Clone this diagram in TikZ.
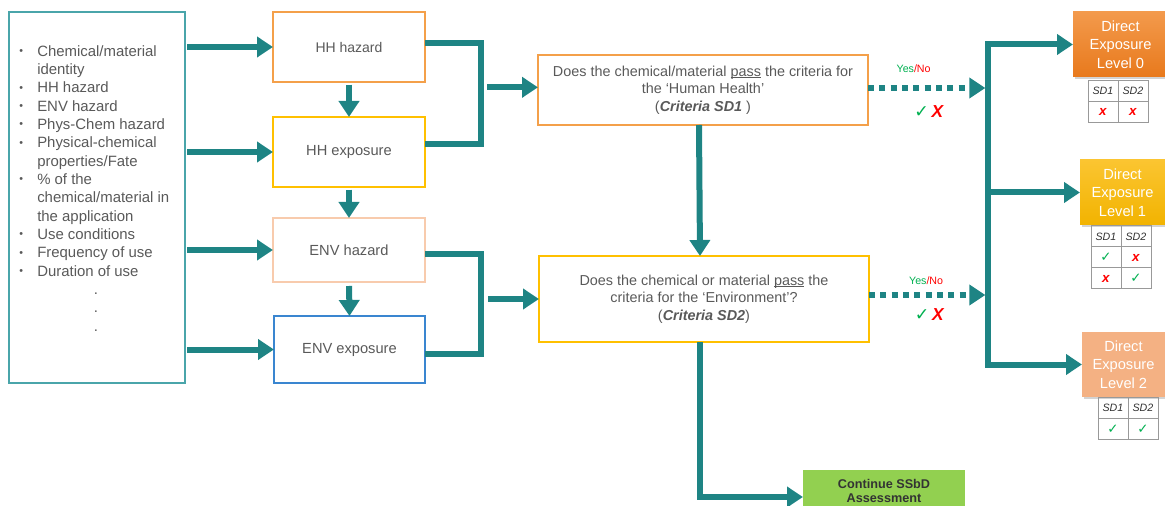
\documentclass[tikz,border=0pt]{standalone}
\usepackage{fontspec}
\setmainfont{Liberation Sans}
\newfontfamily\dejavu{DejaVu Sans}
\usetikzlibrary{arrows.meta,shadows,matrix,calc}
\definecolor{arrteal}{HTML}{1E8484}
\definecolor{lbteal}{HTML}{4AA5AA}
\definecolor{txtgray}{HTML}{595959}
\definecolor{orgB}{HTML}{F4A04A}
\definecolor{yelB}{HTML}{FFC000}
\definecolor{lorB}{HTML}{F8CBAD}
\definecolor{bluB}{HTML}{3A86D0}
\definecolor{lzTop}{HTML}{F39A4C}
\definecolor{lzBot}{HTML}{E8791C}
\definecolor{loTop}{HTML}{FBC531}
\definecolor{loBot}{HTML}{F2B300}
\definecolor{ltwo}{HTML}{F4B183}
\definecolor{cgreen}{HTML}{92D050}
\definecolor{ygreen}{HTML}{00B050}
\definecolor{xred}{HTML}{FF0000}
\newcommand\xm{{\fontsize{10}{11}\selectfont\textcolor{xred}{\textbf{\textit{x}}}}}
\newcommand\ckm{{\dejavu\textcolor{ygreen}{✓}}}
\newcommand\tck{{\fontsize{10}{11}\selectfont\ckm}}
\newcommand\ulpass[1]{\setbox0\hbox{#1}\rlap{\rule[-1.3pt]{\wd0}{0.55pt}}\box0\relax}
\newcommand\bul{\raisebox{1.3pt}{\fontsize{8}{9}\selectfont •}}
\begin{document}
\begin{tikzpicture}[x=0.75pt,y=-0.75pt,
  box/.style={draw, line width=1pt, inner sep=0pt, outer sep=0pt, text=txtgray, align=center},
  arr/.style={draw=arrteal, line width=4.5pt, -{Triangle[length=12pt,width=15pt]}},
  bar/.style={draw=arrteal, line width=4.5pt},
  dotarr/.style={draw=arrteal, line width=4.5pt, dash pattern=on 4.5pt off 4pt, -{Triangle[length=12pt,width=15pt]}},
  lvl/.style={inner sep=0pt, outer sep=0pt, text=white, align=center, font=\fontsize{11}{14}\selectfont, minimum height=48.75pt, drop shadow={opacity=0.35,shadow xshift=1.2pt,shadow yshift=-1.2pt}},
  tbl/.style={matrix of nodes, column sep=-0.75pt, row sep=-0.75pt, nodes={draw=gray!80, line width=0.75pt, minimum width=22.5pt, minimum height=15.75pt, inner sep=0pt, anchor=center, text=black!80, font=\fontsize{8}{9}\selectfont}},
  lab/.style={inner sep=0pt},
]
\useasboundingbox (0,0) rectangle (1165,506);
% left box
\node[box, draw=lbteal, minimum width=132pt, minimum height=278.25pt] (lb) at (97,197.5) {};
\node[anchor=north west, inner sep=0pt, text=txtgray, font=\fontsize{11.2}{13.75}\selectfont] (lt) at (19,43) {\begin{tabular}{@{}l@{\hspace{10.7pt}}l@{}}
\bul&Chemical/material\\
&identity\\
\bul&HH hazard\\
\bul&ENV hazard\\
\bul&Phys-Chem hazard\\
\bul&Physical-chemical\\
&properties/Fate\\
\bul&\% of the\\
&chemical/material in\\
&the application\\
\bul&Use conditions\\
\bul&Frequency of use\\
\bul&Duration of use\\
&\hspace*{42.5pt}.\\
&\hspace*{42.5pt}.\\
&\hspace*{42.5pt}.
\end{tabular}};
% middle boxes
\node[box, draw=orgB, minimum width=114pt, minimum height=52.5pt, font=\fontsize{10.5}{13}\selectfont] (hh) at (349,47) {HH hazard};
\node[box, draw=yelB, minimum width=114pt, minimum height=52.5pt, font=\fontsize{11}{13}\selectfont] (he) at (349,152) {HH exposure};
\node[box, draw=lorB, minimum width=114pt, minimum height=48pt, font=\fontsize{11}{13}\selectfont] (eh) at (349,250) {ENV hazard};
\node[box, draw=bluB, minimum width=113.25pt, minimum height=50.25pt, font=\fontsize{11}{13}\selectfont] (ee) at (349.5,349.5) {ENV exposure};
% decision boxes
\node[box, draw=orgB, minimum width=247.5pt, minimum height=52.5pt, font=\fontsize{10.8}{13.1}\selectfont] (d1) at (703,90) {Does the chemical/material \ulpass{pass} the criteria for\\ the ‘Human Health’\\ (\textbf{\textit{Criteria SD1}} )};
\node[box, draw=yelB, minimum width=247.5pt, minimum height=64.5pt, font=\fontsize{10.8}{13.1}\selectfont] (d2) at (704,299) {Does the chemical or material \ulpass{pass} the\\ criteria for the ‘Environment’?\\ (\textbf{\textit{Criteria SD2}})};
% continue box
\node[fill=cgreen, inner sep=0pt, outer sep=0pt, minimum width=121.5pt, minimum height=31.5pt, font=\bfseries\fontsize{9.5}{10.5}\selectfont, text=black!80, align=center] (cont) at (884,491) {Continue SSbD\\Assessment};
% level boxes
\node[lvl, top color=lzTop, bottom color=lzBot, minimum width=71.25pt] (L0) at (1120.5,44.5) {Direct\\Exposure\\Level 0};
\node[lvl, top color=loTop, bottom color=loBot, minimum width=63.75pt] (L1) at (1122.5,192.5) {Direct\\Exposure\\Level 1};
\node[lvl, fill=ltwo, minimum width=62.25pt] (L2) at (1123.5,364.5) {Direct\\Exposure\\Level 2};
% tables
\matrix[tbl] (t0) at (1118,101.5) {\textit{SD1} & \textit{SD2}\\ \xm & \xm\\};
\matrix[tbl] (t1) at (1121,257.5) {\textit{SD1} & \textit{SD2}\\ \tck & \xm\\ \xm & \tck\\};
\matrix[tbl] (t2) at (1128,418.5) {\textit{SD1} & \textit{SD2}\\ \tck & \tck\\};
% arrows from left box
\foreach \n in {hh,he,eh,ee}
  \draw[arr, shorten <=1.5pt] (lb.east |- \n.west) -- (\n.west);
% down arrows
\draw[arr, shorten <=2pt] (hh.south) -- (he.north);
\draw[arr, shorten <=2pt] (he.south) -- (eh.north);
\draw[arr, shorten <=3pt] (eh.south) -- (ee.north);
% brackets
\draw[bar] ([yshift=3pt]hh.east) -- ++(42pt,0) |- ([yshift=6pt]he.east);
\draw[arr] ([xshift=-38pt,yshift=2pt]d1.west) -- ([yshift=2pt]d1.west);
\draw[bar] ([yshift=-3pt]eh.east) -- ++(42pt,0) |- ([yshift=-3pt]ee.east);
\draw[arr] ([xshift=-38pt]d2.west) -- (d2.west);
% decision flow
\draw[arr] ([xshift=-3pt]d1.south) -- ([xshift=-3pt]d2.north);
\draw[arr] ([xshift=-3pt]d2.south) |- ([yshift=-4.5pt]cont.west);
% bus
\coordinate (bus) at (988,0);
\draw[bar, line cap=rect] (L0.west -| bus) -- (L2.west -| bus);
\foreach \n in {L0,L1,L2}
  \draw[arr] (\n.west -| bus) -- (\n.west);
% dotted arrows
\draw[dotarr, shorten >=2pt] ([yshift=1.5pt]d1.east) -- ([yshift=1.5pt]d1.east -| bus)
  node[lab, pos=0.38, above=9pt, font=\fontsize{8}{9}\selectfont] {\textcolor{ygreen}{Yes}\textcolor{xred}{/No}}
  node[lab, pos=0.51, below=11pt, font=\fontsize{13}{14}\selectfont] {\ckm\,\textcolor{xred}{\textbf{\textit{X}}}};
\draw[dotarr, shorten >=2pt] ([yshift=3pt]d2.east) -- ([yshift=3pt]d2.east -| bus)
  node[lab, pos=0.48, above=5.5pt, font=\fontsize{8}{9}\selectfont] {\textcolor{ygreen}{Yes}\textcolor{xred}{/No}}
  node[lab, pos=0.51, below=8pt, font=\fontsize{13}{14}\selectfont] {\ckm\,\textcolor{xred}{\textbf{\textit{X}}}};
\end{tikzpicture}
\end{document}
